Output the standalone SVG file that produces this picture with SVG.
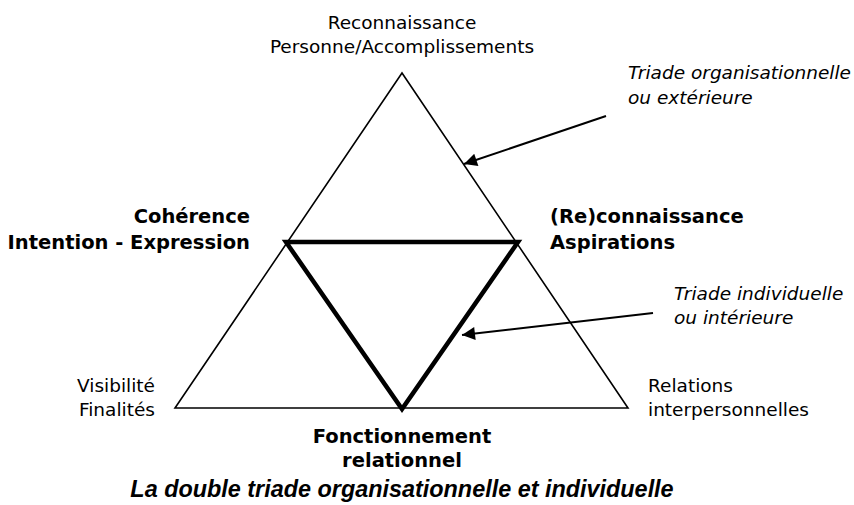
<svg xmlns="http://www.w3.org/2000/svg" width="854" height="505" viewBox="0 0 854 505">
<style>
.t{font-family:"DejaVu Sans",Verdana,sans-serif;font-size:18.5px;fill:#000}
.b{font-family:"DejaVu Sans",Verdana,sans-serif;font-size:19.5px;font-weight:bold;fill:#000}
.i{font-family:"DejaVu Sans",Verdana,sans-serif;font-size:18.5px;font-style:italic;fill:#000}
.title{font-family:"Liberation Sans",Arial,sans-serif;font-size:23.4px;font-weight:bold;font-style:italic;fill:#000}
.outer{fill:none;stroke:#000;stroke-width:1.6;stroke-linejoin:miter}
.inner{fill:none;stroke:#000;stroke-width:4.5;stroke-linejoin:miter}
.arr{fill:none;stroke:#000;stroke-width:2}
</style>
<defs>
<marker id="ah" viewBox="0 0 10 10" refX="10" refY="5" markerWidth="9" markerHeight="6.5" markerUnits="strokeWidth" orient="auto">
<path d="M0,0 L10,5 L0,10 z" fill="#000"/>
</marker>
</defs>
<g id="outer-triad"><polygon class="outer" points="402,73 175,408 628,408"/></g>
<g id="inner-triad"><polygon class="inner" points="286,242 518,242 402,409"/></g>
<g id="top-label"><text class="t" x="402" y="29" text-anchor="middle">Reconnaissance</text><text class="t" x="402" y="53" text-anchor="middle">Personne/Accomplissements</text></g>
<g id="coherence"><text class="b" x="250" y="223" text-anchor="end">Cohérence</text><text class="b" x="250" y="249" text-anchor="end">Intention - Expression</text></g>
<g id="reconnaissance"><text class="b" x="550" y="223">(Re)connaissance</text><text class="b" x="550" y="249">Aspirations</text></g>
<g id="visibilite"><text class="t" x="155" y="392" text-anchor="end">Visibilité</text><text class="t" x="155" y="416" text-anchor="end">Finalités</text></g>
<g id="relations"><text class="t" x="648" y="392">Relations</text><text class="t" x="648" y="416">interpersonnelles</text></g>
<g id="fonctionnement"><text class="b" x="402" y="443" text-anchor="middle">Fonctionnement</text><text class="b" x="402" y="467" text-anchor="middle">relationnel</text></g>
<g id="triade-org"><text class="i" x="628" y="79">Triade organisationnelle</text><text class="i" x="628" y="104">ou extérieure</text></g>
<g id="triade-ind"><text class="i" x="674" y="300">Triade individuelle</text><text class="i" x="674" y="324">ou intérieure</text></g>
<g id="connectors">
<line class="arr" x1="606" y1="116" x2="464" y2="164" marker-end="url(#ah)"/>
<line class="arr" x1="653" y1="313" x2="462" y2="335" marker-end="url(#ah)"/>
</g>
<g id="caption"><text class="title" x="402" y="497" text-anchor="middle">La double triade organisationnelle et individuelle</text></g>
</svg>
